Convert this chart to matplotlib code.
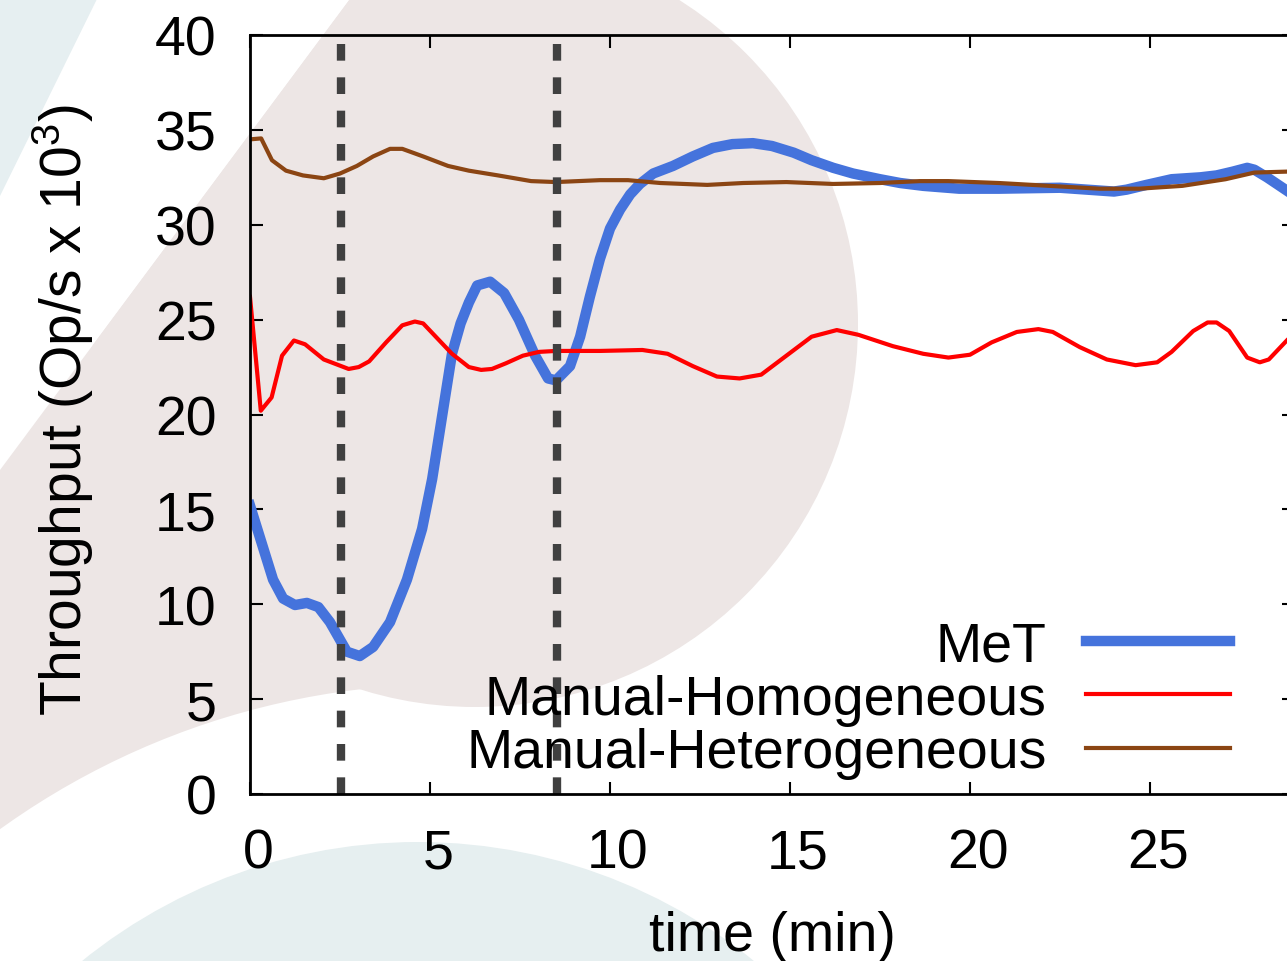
import numpy as np
import matplotlib
matplotlib.use("Agg")
import matplotlib.pyplot as plt
from matplotlib.patches import Polygon, Circle
from matplotlib.transforms import ScaledTranslation

plt.rcParams['font.family'] = ['Liberation Sans', 'DejaVu Sans']
plt.rcParams['mathtext.fontset'] = 'custom'
plt.rcParams['mathtext.rm'] = 'Liberation Sans'
plt.rcParams['mathtext.default'] = 'regular'

# MeT
met_t = [0, 0.64, 0.92, 1.25, 1.58, 1.9, 2.22, 2.69, 3.05, 3.42, 3.89, 4.36, 4.78, 5.06,
         5.61, 5.85, 6.08, 6.31, 6.67, 7.06, 7.47, 7.92, 8.28, 8.5, 8.89, 9.17, 9.44, 9.72,
         10.0, 10.28, 10.56, 10.83, 11.2, 11.75, 12.3, 12.86, 13.4, 13.97, 14.5, 15.1, 15.6,
         16.2, 16.75, 17.5, 18.06, 18.7, 19.7, 20.8, 22.5, 23.25, 24.0, 24.35, 24.9, 25.6,
         26.4, 26.85, 27.3, 27.7, 27.9, 28.25, 28.8]
met_v = [15.2, 11.3, 10.3, 9.96, 10.07, 9.85, 9.06, 7.5, 7.27, 7.75, 9.06, 11.3, 13.97, 16.6,
         23.2, 24.8, 25.9, 26.8, 27.0, 26.4, 25.0, 23.1, 21.9, 21.8, 22.55, 24.1, 26.2, 28.2,
         29.8, 30.8, 31.6, 32.15, 32.7, 33.1, 33.6, 34.05, 34.25, 34.3, 34.15, 33.8, 33.4,
         33.0, 32.7, 32.4, 32.2, 32.05, 31.9, 31.9, 31.95, 31.85, 31.75, 31.85, 32.1, 32.4,
         32.5, 32.6, 32.8, 33.0, 32.9, 32.5, 31.8]

# Manual-Homogeneous
hom_t = [0, 0.3, 0.6, 0.89, 1.22, 1.53, 2.05, 2.74, 3.02, 3.31, 3.78, 4.23, 4.58, 4.81, 5.16,
         5.61, 6.08, 6.42, 6.72, 7.11, 7.58, 8.03, 8.5, 9.72, 10.9, 11.6, 12.3, 12.97, 13.6,
         14.2, 14.9, 15.6, 16.3, 16.9, 17.86, 18.7, 19.4, 20.0, 20.6, 21.3, 21.9, 22.3, 23.05,
         23.8, 24.6, 25.2, 25.6, 26.2, 26.6, 26.85, 27.2, 27.7, 28.05, 28.3, 28.8]
hom_v = [26.2, 20.2, 20.9, 23.1, 23.9, 23.7, 22.9, 22.4, 22.5, 22.8, 23.8, 24.7, 24.9, 24.8, 24.1,
         23.2, 22.5, 22.35, 22.4, 22.7, 23.1, 23.3, 23.35, 23.35, 23.4, 23.2, 22.55, 22.0, 21.9,
         22.1, 23.1, 24.1, 24.45, 24.2, 23.6, 23.2, 23.0, 23.15, 23.8, 24.35, 24.5, 24.35, 23.55,
         22.9, 22.6, 22.75, 23.3, 24.4, 24.85, 24.85, 24.4, 23.0, 22.75, 22.9, 23.9]

# Manual-Heterogeneous
het_t = [0, 0.31, 0.61, 1.0, 1.47, 2.05, 2.5, 2.97, 3.42, 3.89, 4.23, 4.81, 5.5, 6.08, 6.89,
         7.81, 8.5, 9.72, 10.5, 11.4, 12.7, 13.7, 14.9, 16.2, 17.5, 18.6, 19.4, 20.8, 22.2,
         23.6, 24.7, 25.9, 27.1, 27.9, 28.8]
het_v = [34.5, 34.55, 33.4, 32.85, 32.6, 32.45, 32.7, 33.1, 33.6, 34.0, 34.0, 33.6, 33.1, 32.85,
         32.6, 32.3, 32.25, 32.35, 32.35, 32.2, 32.1, 32.2, 32.25, 32.15, 32.2, 32.3, 32.3, 32.2,
         32.05, 31.9, 31.9, 32.05, 32.4, 32.75, 32.8]

# lineas verticales (cambios de fase)
eventos = [2.53, 8.53]

fig = plt.figure(figsize=(12.87, 9.62), dpi=100)

# fondo decorativo
rosa = '#ede6e5'
bg = fig.add_axes([0, 0, 1, 1], zorder=0)
bg.set_xlim(0, 1287)
bg.set_ylim(962, 0)
bg.axis('off')
bg.add_patch(Polygon([(0, 0), (97, 0), (0, 197)], closed=True, color='#e6eff1', lw=0))
bg.add_patch(Polygon([(350, 0), (600, 0), (475, 325), (400, 700), (0, 900), (0, 471)],
                     closed=True, color=rosa, lw=0))
bg.add_patch(Circle((450, 1455), 770, color='white', lw=0))
corte = Polygon([(385, -47), (1300, -47), (1300, 1000), (-350, 942)], closed=True,
                transform=bg.transData, visible=False)
bg.add_patch(corte)
circ = Circle((475, 325), 383, color=rosa, lw=0)
bg.add_patch(circ)
circ.set_clip_path(corte)
bg.add_patch(Circle((418, 1377), 534, color='#e6eff0', lw=0))

ax = fig.add_axes([250/1287, 167/962, 1044/1287, 759/962], zorder=1)
ax.set_facecolor('none')

ax.plot(met_t, met_v, color='#4573dc', lw=7.5, label='MeT', solid_joinstyle='round')
ax.plot(hom_t, hom_v, color='#ff0000', lw=3, label='Manual-Homogeneous')
ax.plot(het_t, het_v, color='#8b4513', lw=3, label='Manual-Heterogeneous')
for e in eventos:
    ax.axvline(e, color='#404040', lw=6, dashes=(2, 2), ymax=0.99)

ax.set_xlim(0, 29)
ax.set_ylim(0, 40)
ax.set_xticks([0, 5, 10, 15, 20, 25])
ax.set_yticks(np.arange(0, 41, 5))
ax.tick_params(direction='in', length=9, width=1.5, top=True, right=True,
               labelsize=40, pad=24)
for lab in ax.get_xticklabels():
    lab.set_transform(lab.get_transform() + ScaledTranslation(0.08, 0, fig.dpi_scale_trans))
for s in ax.spines.values():
    s.set_linewidth(2)

ax.legend(markerfirst=False, frameon=False, fontsize=40, handlelength=2.6,
          handletextpad=0.7, labelspacing=0.03, loc='upper right',
          bbox_to_anchor=(1230/1287, 1 - 621/962), bbox_transform=fig.transFigure,
          borderpad=0, borderaxespad=0)

fig.text(63/1287, 1 - 410/962, 'Throughput (Op/s x 10$^3$)', rotation=90,
         ha='center', va='center', fontsize=41)
fig.text(772/1287, 1 - 937/962, 'time (min)', ha='center', va='center', fontsize=40)

fig.savefig('out.png', dpi=100)
